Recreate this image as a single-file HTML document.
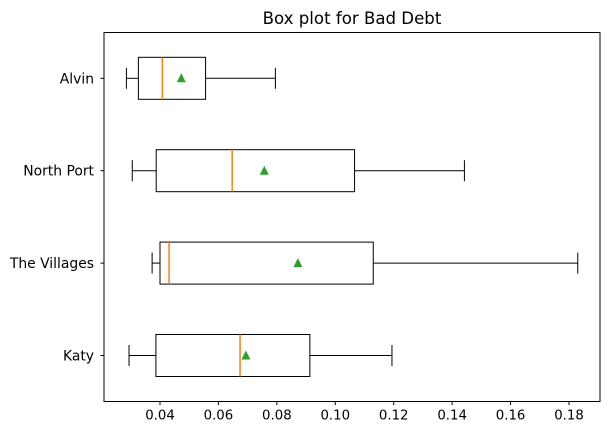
<!DOCTYPE html>
<html><head><meta charset="utf-8"><style>
body{margin:0;background:#fff;}
svg text{font-family:"DejaVu Sans","Liberation Sans",sans-serif;fill:#000;}
</style></head><body>
<svg id="chart" width="609" height="435" xmlns="http://www.w3.org/2000/svg">
<text x="352" y="24" font-size="16.6" text-anchor="middle">Box plot for Bad Debt</text>
<g id="plot"></g>
</svg>
<script>
const categories = ["Alvin","North Port","The Villages","Katy"];
const whiskerLow = [0.0285,0.0305,0.0373,0.0294];
const q1 = [0.0326,0.0387,0.0400,0.0386];
const medians = [0.0408,0.0647,0.0431,0.0674];
const means = [0.0473,0.0757,0.0872,0.0694];
const q3 = [0.0556,0.1066,0.1130,0.0913];
const whiskerHigh = [0.0795,0.1442,0.1830,0.1194];
const xTicks = [0.04,0.06,0.08,0.10,0.12,0.14,0.16,0.18];
const xTickLabels = ["0.04","0.06","0.08","0.10","0.12","0.14","0.16","0.18"];

const L=104,R=600,T=32.5,B=401.5;
const xs=v=>160+(v-0.04)*(409/0.14);
const ys=i=>78.3+i*92.4;
const g=document.getElementById('plot');
const NS="http://www.w3.org/2000/svg";
function mk(t,a){const e=document.createElementNS(NS,t);for(const k in a)e.setAttribute(k,a[k]);g.appendChild(e);return e;}
const hb=21, hc=10.5;
categories.forEach((c,i)=>{
  const y=ys(i);
  let e;
  e=mk('line',{x1:xs(whiskerLow[i]),x2:xs(q1[i]),y1:y,y2:y,stroke:'#000','stroke-width':1});
  
  
  e=mk('line',{x1:xs(q3[i]),x2:xs(whiskerHigh[i]),y1:y,y2:y,stroke:'#000','stroke-width':1});
  
  
  e=mk('line',{x1:xs(whiskerLow[i]),x2:xs(whiskerLow[i]),y1:y-hc,y2:y+hc,stroke:'#000','stroke-width':1});
  
  
  e=mk('line',{x1:xs(whiskerHigh[i]),x2:xs(whiskerHigh[i]),y1:y-hc,y2:y+hc,stroke:'#000','stroke-width':1});
  
  
  e=mk('rect',{x:xs(q1[i]),y:y-hb,width:xs(q3[i])-xs(q1[i]),height:2*hb,fill:'none',stroke:'#000','stroke-width':1});
  
  
  e=mk('line',{x1:xs(medians[i]),x2:xs(medians[i]),y1:y-hb,y2:y+hb,stroke:'#ff7f0e','stroke-width':1.5});
  
  
  const mx=xs(means[i]);
  e=mk('polygon',{points:`${mx},${y-5} ${mx-4.5},${y+4} ${mx+4.5},${y+4}`,fill:'#2ca02c'});
  
  
  e=mk('line',{x1:L-3.5,x2:L,y1:y,y2:y,stroke:'#000','stroke-width':1});
  
  
  e=mk('text',{x:L-10,y:y+5,'font-size':13.9,'text-anchor':'end'});
  e.textContent=c;
  
  
});
xTicks.forEach((v,i)=>{
  let e=mk('line',{x1:xs(v),x2:xs(v),y1:B,y2:B+3.5,stroke:'#000','stroke-width':1});
  
  
  e=mk('text',{x:xs(v),y:B+18,'font-size':13.3,'text-anchor':'middle'});
  e.textContent=xTickLabels[i];
  
  
});
const f=mk('rect',{x:L,y:T,width:R-L,height:B-T,fill:'none',stroke:'#000','stroke-width':1});


</script>
</body></html>
